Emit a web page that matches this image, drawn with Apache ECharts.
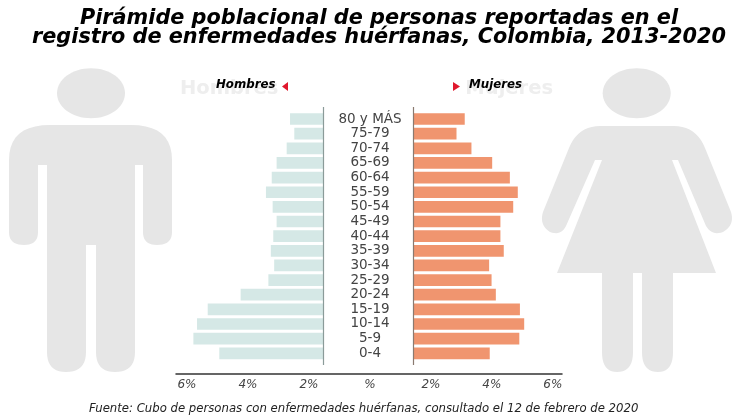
<!DOCTYPE html>
<html><head><meta charset="utf-8">
<style>html,body{margin:0;padding:0;background:#fff}#c{width:747px;height:420px}</style>
<script src="https://cdn.jsdelivr.net/npm/echarts@6/dist/echarts.min.js"></script>
</head><body><div id="c"></div>
<script>
const ageGroups = ['80 y MÁS','75-79','70-74','65-69','60-64','55-59','50-54','45-49','40-44','35-39','30-34','25-29','20-24','15-19','10-14','5-9','0-4'];
const hombres = [2.62,2.48,2.73,3.06,3.22,3.41,3.19,3.06,3.17,3.25,3.14,3.33,4.24,5.32,5.67,5.79,4.94];
const mujeres = [3.11,2.84,3.33,4.01,4.59,4.85,4.70,4.28,4.28,4.39,3.91,3.99,4.13,4.92,5.06,4.90,3.93];
const xTicks = [-6,-4,-2,0,2,4,6];
const titleText = 'Pirámide poblacional de personas reportadas en el\nregistro de enfermedades huérfanas, Colombia, 2013-2020';
const sourceText = 'Fuente: Cubo de personas con enfermedades huérfanas, consultado el 12 de febrero de 2020';

// Flatten a simple M/L/Q/Z outline into polygon points for the silhouettes.
function outline(d){
  const t = d.trim().split(/\s+/); const pts = []; let i = 0, cx = 0, cy = 0;
  while(i < t.length){
    const c = t[i][0]; const first = t[i].slice(1);
    if(c === 'Z') break;
    if(c === 'M' || c === 'L'){ cx = +first; cy = +t[i+1]; pts.push([cx,cy]); i += 2; }
    else { // Q
      const x1 = +first, y1 = +t[i+1], x2 = +t[i+2], y2 = +t[i+3];
      for(let k = 1; k <= 10; k++){ const u = k/10, v = 1-u;
        pts.push([v*v*cx+2*v*u*x1+u*u*x2, v*v*cy+2*v*u*y1+u*u*y2]); }
      cx = x2; cy = y2; i += 4;
    }
  }
  return pts;
}
const manPath = 'M9 160 Q9 125 50 125 L131 125 Q172 125 172 160 L172 232 Q172 245 157 245 Q143 245 143 232 L143 165 L135 165 L135 352 Q135 372 115 372 Q96 372 96 352 L96 245 L86 245 L86 352 Q86 372 66 372 Q47 372 47 352 L47 165 L38 165 L38 232 Q38 245 24 245 Q9 245 9 232 Z';
const womanPath = 'M600 126 L674 126 Q696 126 705 148 L731 212 Q735 225 723 232 Q712 236 706 226 L678 160 L672 160 L716 273 L673 273 L673 352 Q673 372 658 372 Q642 372 642 352 L642 273 L633 273 L633 352 Q633 372 617 372 Q602 372 602 352 L602 273 L557 273 L602 160 L595 160 L566 226 Q561 236 550 232 Q539 225 543 212 L569 148 Q578 126 600 126 Z';

const gray = '#e6e6e6';
const chart = echarts.init(document.getElementById('c'), null, {renderer:'canvas'});
chart.setOption({
  animation:false,
  backgroundColor:'#fff',
  title:{text:titleText,left:374,textAlign:'center',top:4,
    textStyle:{fontFamily:'DejaVu Sans',fontStyle:'italic',fontWeight:'bold',fontSize:20.8,lineHeight:19,color:'#000'}},
  grid:{left:176,right:185,top:111.7,bottom:59.4},
  xAxis:{type:'value',min:-6.36,max:6.3,position:'bottom',offset:13,
    axisLine:{show:true,onZero:false,lineStyle:{color:'#333',width:1.5}},
    axisTick:{show:false},splitLine:{show:false},
    axisLabel:{customValues:xTicks,margin:5,color:'#444',fontFamily:'DejaVu Sans',fontSize:12,fontStyle:'italic',
      formatter:v=>v===0?'%':Math.abs(v)+'%'}},
  yAxis:{type:'category',data:ageGroups,inverse:true,z:10,
    axisLine:{show:false,onZero:false},axisTick:{show:false},
    axisLabel:{interval:0,margin:-194,align:'center',color:'#444',fontFamily:'DejaVu Sans',fontSize:13.5}},
  series:[
    {name:'Hombres',type:'bar',data:hombres.map(v=>-v),barWidth:11.7,barGap:'-100%',itemStyle:{color:'#d5e8e6'}},
    {name:'Mujeres',type:'bar',data:mujeres,barWidth:11.7,barGap:'-100%',itemStyle:{color:'#f0956f'}}
  ],
  graphic:[
    {type:'ellipse',z:0,shape:{cx:91,cy:93.3,rx:34,ry:25},style:{fill:gray}},
    {type:'polygon',z:0,shape:{points:outline(manPath)},style:{fill:gray}},
    {type:'ellipse',z:0,shape:{cx:636.7,cy:93.3,rx:34,ry:25},style:{fill:gray}},
    {type:'polygon',z:0,shape:{points:outline(womanPath)},style:{fill:gray}},
    {type:'text',z:1,left:180,top:79,style:{text:'Hombres',fill:'#eeeeee',fontFamily:'DejaVu Sans',fontWeight:'bold',fontSize:19.5}},
    {type:'text',z:1,right:194,top:79,style:{text:'Mujeres',fill:'#eeeeee',fontFamily:'DejaVu Sans',fontWeight:'bold',fontSize:19.5}},
    {type:'text',z:3,left:216,top:79,style:{text:'Hombres',fill:'#000',fontFamily:'DejaVu Sans',fontStyle:'italic',fontWeight:'bold',fontSize:11.8}},
    {type:'text',z:3,left:469,top:79,style:{text:'Mujeres',fill:'#000',fontFamily:'DejaVu Sans',fontStyle:'italic',fontWeight:'bold',fontSize:11.8}},
    {type:'polygon',z:3,shape:{points:[[288,82],[288,91],[282,86.5]]},style:{fill:'#e0182d'}},
    {type:'polygon',z:3,shape:{points:[[453,82],[453,91],[460,86.5]]},style:{fill:'#e0182d'}},
    {type:'rect',z:5,shape:{x:324,y:105,width:89,height:262},style:{fill:'#fff'}},
    {type:'line',z:6,shape:{x1:323.5,y1:107,x2:323.5,y2:365},style:{stroke:'#8b9b99',lineWidth:1.2}},
    {type:'line',z:6,shape:{x1:413.5,y1:107,x2:413.5,y2:365},style:{stroke:'#8a7a70',lineWidth:1.2}},
    {type:'text',z:3,left:89,top:403,style:{text:sourceText,fill:'#222',fontFamily:'DejaVu Sans',fontStyle:'italic',fontSize:11.7}}
  ]
});
</script></body></html>
